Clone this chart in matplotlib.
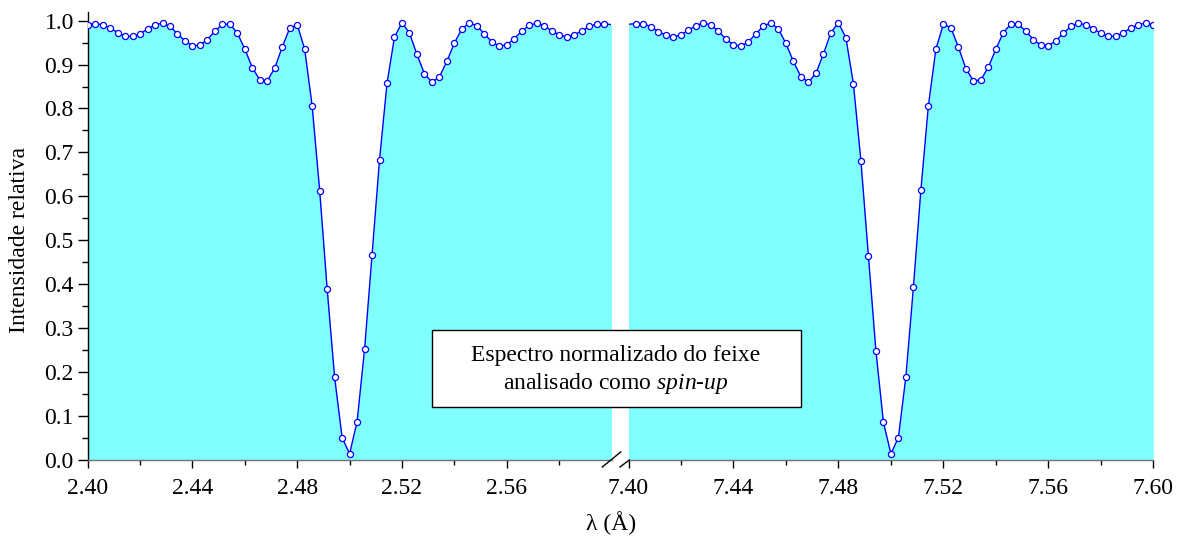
import matplotlib
matplotlib.use('Agg')
import matplotlib.pyplot as plt
import numpy as np
from matplotlib.ticker import MultipleLocator, FixedLocator
import matplotlib.lines as mlines
import matplotlib.patches as mpatches

plt.rcParams['font.family'] = 'Liberation Serif'
plt.rcParams['mathtext.fontset'] = 'custom'
plt.rcParams['mathtext.rm'] = 'Liberation Serif'
plt.rcParams['mathtext.it'] = 'Liberation Serif:italic'

# data (71 samples per window)
lam_left = np.linspace(2.40, 2.60, 71)
lam_right = np.linspace(7.40, 7.60, 71)

I_left = [0.991, 0.993, 0.991, 0.983, 0.973, 0.965, 0.964, 0.970, 0.981, 0.991,
          0.994, 0.987, 0.970, 0.954, 0.943, 0.944, 0.957, 0.976, 0.992, 0.992,
          0.972, 0.935, 0.893, 0.865, 0.863, 0.892, 0.940, 0.983, 0.991, 0.935,
          0.805, 0.613, 0.389, 0.187, 0.050, 0.013, 0.086, 0.251, 0.466, 0.683,
          0.857, 0.963, 0.995, 0.972, 0.923, 0.879, 0.860, 0.872, 0.907, 0.949,
          0.981, 0.995, 0.989, 0.970, 0.952, 0.942, 0.945, 0.959, 0.976, 0.990,
          0.994, 0.989, 0.977, 0.968, 0.963, 0.968, 0.976, 0.987, 0.992, 0.993,
          0.991]

I_right = [0.992, 0.993, 0.993, 0.986, 0.975, 0.967, 0.963, 0.968, 0.978, 0.989,
           0.995, 0.990, 0.976, 0.958, 0.945, 0.942, 0.952, 0.970, 0.988, 0.995,
           0.981, 0.948, 0.907, 0.872, 0.860, 0.880, 0.924, 0.973, 0.995, 0.961,
           0.856, 0.681, 0.464, 0.248, 0.085, 0.013, 0.050, 0.189, 0.392, 0.614,
           0.806, 0.935, 0.992, 0.984, 0.940, 0.891, 0.863, 0.865, 0.894, 0.935,
           0.973, 0.992, 0.992, 0.976, 0.957, 0.944, 0.943, 0.954, 0.971, 0.987,
           0.994, 0.991, 0.982, 0.971, 0.964, 0.965, 0.973, 0.983, 0.991, 0.994,
           0.991]

left_ticks = [2.40, 2.44, 2.48, 2.52, 2.56]
left_minor = [2.42, 2.46, 2.50, 2.54, 2.58]
right_ticks = [7.40, 7.44, 7.48, 7.52, 7.56, 7.60]
right_minor = [7.42, 7.46, 7.50, 7.54, 7.58]

fill_col = '#80FFFF'
line_col = '#0000FF'
fs = 17

W, H = 1186, 538
fig = plt.figure(figsize=(W / 100, H / 100), dpi=100)

y0, ytop = 459.5, 11.9
bot = 1 - y0 / H
hgt = (y0 - ytop) / H
ax1 = fig.add_axes([87.7 / W, bot, (611.5 - 87.7) / W, hgt])
ax2 = fig.add_axes([628.5 / W, bot, (1153.3 - 628.5) / W, hgt])

panels = [(ax1, lam_left, I_left, (2.40, 2.60), left_ticks, left_minor, slice(0, 70)),
          (ax2, lam_right, I_right, (7.40, 7.60), right_ticks, right_minor, slice(1, 71))]

for ax, x, y, xl, mt, mn, mev in panels:
    ax.fill_between(x, 0, y, color=fill_col, lw=0, zorder=1)
    ax.plot(x, y, color=line_col, lw=1.0, marker='o', ms=4.4, mfc='white',
            mec=line_col, mew=0.9, markevery=mev, zorder=3)
    ax.set_xlim(*xl)
    ax.set_ylim(0, 1.02)
    ax.xaxis.set_major_locator(FixedLocator(mt))
    ax.xaxis.set_minor_locator(FixedLocator(mn))
    ax.set_xticklabels(['%.2f' % t for t in mt])
    for s in ['top', 'right']:
        ax.spines[s].set_visible(False)
    ax.spines['bottom'].set_color('0.45')
    ax.spines['bottom'].set_linewidth(1.0)
    ax.tick_params(axis='x', which='major', direction='out', length=6, width=1,
                   labelsize=fs, pad=7, color='black')
    ax.tick_params(axis='x', which='minor', direction='out', length=3.5, width=1,
                   color='black')

ax1.yaxis.set_major_locator(MultipleLocator(0.1))
ax1.yaxis.set_minor_locator(MultipleLocator(0.05))
ax1.set_yticks(np.arange(0, 1.01, 0.1))
ax1.set_yticklabels(['%.1f' % t for t in np.arange(0, 1.01, 0.1)])
ax1.tick_params(axis='y', which='major', direction='out', length=7, width=1,
                labelsize=fs, pad=3)
ax1.tick_params(axis='y', which='minor', direction='out', length=4.5, width=1)
ax1.spines['left'].set_linewidth(1.0)

ax2.spines['left'].set_visible(False)
ax2.tick_params(axis='y', left=False, labelleft=False)

# axis labels
fig.text(611 / W, 1 - 523 / H, 'λ (Å)', ha='center', va='center', fontsize=fs)
fig.text(20 / W, 1 - 240 / H, 'Intensidade relativa', ha='center', va='center',
         rotation=90, fontsize=fs)

# text box across the break
box = mpatches.Rectangle((431.7 / W, 1 - 407 / H), (801 - 431.7) / W, (407 - 330) / H,
                         transform=fig.transFigure, facecolor='white',
                         edgecolor='black', lw=1.0, zorder=10)
fig.add_artist(box)
fig.text(616 / W, 1 - 355 / H, 'Espectro normalizado do feixe', ha='center',
         va='center', fontsize=fs, zorder=11)
fig.text(616 / W, 1 - 383 / H, r'analisado como $\mathit{spin}$-$\mathit{up}$',
         ha='center', va='center', fontsize=fs, zorder=11)

# break marks
for (xa, ya), (xb, yb) in [((602.3, 467), (620.7, 452)), ((620, 467), (629.3, 460))]:
    fig.add_artist(mlines.Line2D([xa / W, xb / W], [1 - ya / H, 1 - yb / H],
                                 transform=fig.transFigure, color='black', lw=1.0))

plt.savefig('out.png', dpi=100)
